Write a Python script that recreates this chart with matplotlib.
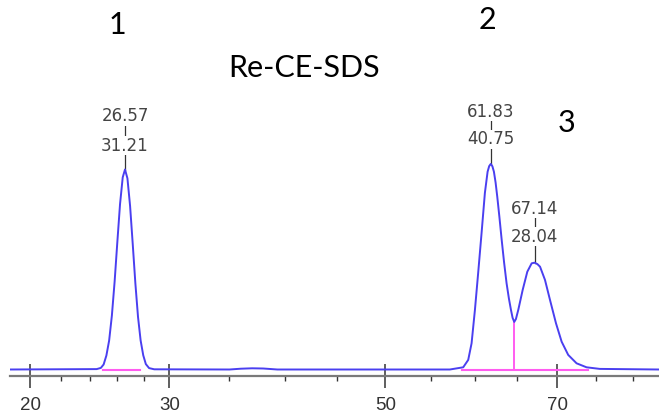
import numpy as np
import matplotlib
matplotlib.use("Agg")
import matplotlib.pyplot as plt
from matplotlib.scale import FuncScale

# electropherogram trace (arbitrary units)
trace_x = [18.7, 24.5, 24.8, 25.0, 25.2, 25.4, 25.6, 25.8, 26.0, 26.2, 26.4, 26.57,
           26.75, 26.95, 27.15, 27.35, 27.55, 27.75, 27.95, 28.15, 28.4, 28.8,
           35.0, 36.0, 37.0, 38.0, 39.3,
           57.07, 58.60, 59.18, 59.57, 59.96, 60.34, 60.74, 61.13, 61.45, 61.64, 61.83,
           62.02, 62.20, 62.40, 62.60, 62.85, 63.13, 63.42, 63.72, 64.0, 64.25, 64.45,
           64.65, 64.85, 65.14, 65.68, 66.25, 66.79, 67.14, 67.5, 67.83, 68.45, 69.08,
           69.84, 70.56, 71.40, 72.48, 73.78, 75.53, 83.6]
trace_y = [0, 0.02, 0.08, 0.25, 0.70, 1.45, 2.70, 4.39, 6.37, 8.27, 9.61, 10.0,
           9.56, 8.18, 6.27, 4.30, 2.63, 1.45, 0.71, 0.27, 0.07, 0.01,
           0, 0.04, 0.06, 0.05, 0,
           0, 0.11, 0.48, 1.31, 2.98, 4.83, 6.83, 8.83, 9.89, 10.17, 10.28,
           10.16, 9.89, 9.35, 8.64, 7.65, 6.48, 5.35, 4.31, 3.55, 2.98, 2.58,
           2.38, 2.52, 2.98, 3.98, 4.89, 5.31, 5.34, 5.27, 5.14, 4.48, 3.48,
           2.31, 1.39, 0.73, 0.31, 0.11, 0.03, 0]

# integration baselines and drop line
base_start = [24.95, 58.5]
base_end = [27.7, 73.96]
drop_x = 64.65
drop_y = 2.38

# peak annotations: migration time / area %
peak_time = [26.57, 61.83, 67.14]
peak_area = [31.21, 40.75, 28.04]
peak_top = [10.0, 10.28, 5.34]

major_ticks = [20, 30, 50, 70]
minor_ticks = [22, 24, 26, 28, 35, 40, 45, 55, 60, 65, 75, 80]

W, H = 659, 416
fig = plt.figure(figsize=(W / 100, H / 100), dpi=100)
ax = fig.add_axes([10 / W, 1 - 375.5 / H, 649 / W, 375.5 / H])

ax.set_xscale(FuncScale(ax.xaxis, (lambda v: np.sign(v) * np.abs(v) ** 0.45,
                                   lambda v: np.sign(v) * np.abs(v) ** (1 / 0.45))))
ax.set_xlim(18.74, 83.6)
ax.set_ylim(-0.3, 18.475)

ax.plot(trace_x, trace_y, color="#4a3ff0", lw=1.4, zorder=3)
for a, b in zip(base_start, base_end):
    ax.plot([a, b], [0, 0], color="#ff5cf0", lw=1.5, zorder=4)
ax.plot([drop_x, drop_x], [0, drop_y], color="#ff5cf0", lw=1.4, zorder=2)

# peak labels (upper row time, lower row area)
label_rows = [(12.68, 11.2), (12.9, 11.5), (8.05, 6.65)]
for t, area, top, (y1, y2) in zip(peak_time, peak_area, peak_top, label_rows):
    ax.plot([t, t], [top, y1], color="#333333", lw=0.9, zorder=2)
    for y, s in [(y1, "%.2f" % t), (y2, "%.2f" % area)]:
        ax.text(t, y, s, ha="center", va="center", fontsize=12, color="#444444",
                family="DejaVu Sans", zorder=5,
                bbox=dict(facecolor="white", edgecolor="none", pad=0.6))

for side in ["top", "left", "right"]:
    ax.spines[side].set_visible(False)
ax.spines["bottom"].set_color("#7a7a7a")
ax.spines["bottom"].set_linewidth(1.6)
ax.set_yticks([])
ax.set_xticks(major_ticks)
ax.set_xticks(minor_ticks, minor=True)
ax.set_xticklabels([str(v) for v in major_ticks], family="Liberation Sans")
ax.tick_params(axis="x", which="major", direction="inout", length=17, width=1.1,
               color="#333333", pad=7, labelsize=13.5, labelcolor="#333333")
ax.tick_params(axis="x", which="minor", direction="out", length=3.8, width=1.0,
               color="#333333")

big = dict(fontsize=22, family="Lato", color="black", ha="center", va="center")
fig.text(117 / W, 1 - 25 / H, "1", **big)
fig.text(487 / W, 1 - 20 / H, "2", **big)
fig.text(567 / W, 1 - 123 / H, "3", **big)
fig.text(304.5 / W, 1 - 68 / H, "Re-CE-SDS", **big)

fig.savefig("out.png", dpi=100)
